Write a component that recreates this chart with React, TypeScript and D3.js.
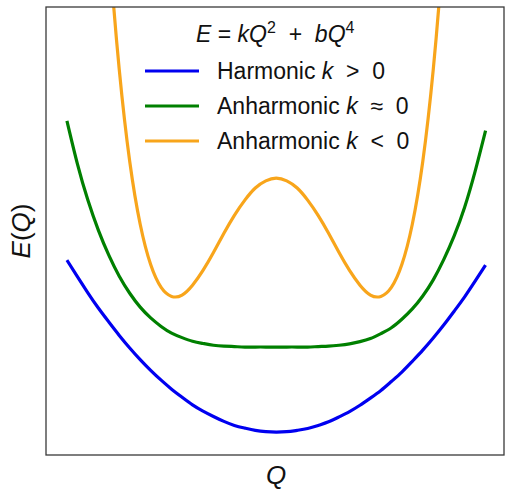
import React from "react";
import * as d3 from "d3";

// Q grid (normalised coordinate)
const qGrid = [
  -1, -0.95, -0.9, -0.85, -0.8, -0.75, -0.7, -0.65, -0.6, -0.55, -0.5, -0.45, -0.4, -0.35, -0.3, -0.25, -0.2, -0.15, -0.1, -0.05,
  0, 0.05, 0.1, 0.15, 0.2, 0.25, 0.3, 0.35, 0.4, 0.45, 0.5, 0.55, 0.6, 0.65, 0.7, 0.75, 0.8, 0.85, 0.9, 0.95, 1,
];
const harmonic = [
  4.35, 3.98, 3.62, 3.28, 2.97, 2.67, 2.39, 2.13, 1.89, 1.67, 1.47, 1.29, 1.12, 0.98, 0.86, 0.75, 0.66, 0.6, 0.55, 0.52,
  0.51, 0.52, 0.55, 0.59, 0.66, 0.74, 0.85, 0.97, 1.11, 1.27, 1.44, 1.64, 1.85, 2.09, 2.34, 2.61, 2.9, 3.21, 3.53, 3.88, 4.24,
];
const anharmonicFlat = [
  7.46, 6.5, 5.69, 5.02, 4.46, 3.99, 3.61, 3.3, 3.06, 2.87, 2.72, 2.62, 2.54, 2.49, 2.45, 2.43, 2.42, 2.41, 2.41, 2.41,
  2.41, 2.41, 2.41, 2.41, 2.42, 2.43, 2.45, 2.48, 2.53, 2.6, 2.71, 2.84, 3.03, 3.26, 3.55, 3.91, 4.36, 4.89, 5.53, 6.33, 7.24,
];
const qWell = [
  -0.85, -0.8, -0.75, -0.7, -0.65, -0.6, -0.55, -0.5, -0.45, -0.4, -0.35, -0.3, -0.25, -0.2, -0.15, -0.1, -0.05,
  0, 0.05, 0.1, 0.15, 0.2, 0.25, 0.3, 0.35, 0.4, 0.45, 0.5, 0.55, 0.6, 0.65, 0.7, 0.75, 0.8, 0.85,
];
const doubleWell = [
  15.4, 11.5, 8.6, 6.55, 5.15, 4.25, 3.74, 3.54, 3.57, 3.79, 4.12, 4.52, 4.95, 5.35, 5.69, 5.96, 6.12,
  6.18, 6.12, 5.96, 5.69, 5.35, 4.95, 4.52, 4.12, 3.79, 3.57, 3.54, 3.74, 4.25, 5.15, 6.55, 8.6, 11.5, 15.4,
];

const seriesNames = ["Harmonic", "Anharmonic", "Anharmonic"];
const seriesRel = [">", "\u2248", "<"];
const seriesColors = ["#0000f0", "#008000", "#f8a51b"];

const xDomain = [-1.1, 1.1];
const yDomain = [0, 10];

export default function App() {
  const W = 505;
  const H = 492;
  const left = 46, right = 504, top = 7, bottom = 455;
  const x = d3.scaleLinear().domain(xDomain).range([left, 506.5]);
  const y = d3.scaleLinear().domain(yDomain).range([bottom, top]);
  const line = d3
    .line<[number, number]>()
    .x((d) => x(d[0]))
    .y((d) => y(d[1]))
    .curve(d3.curveNatural);

  const series = [
    { q: qGrid, e: harmonic },
    { q: qGrid, e: anharmonicFlat },
    { q: qWell, e: doubleWell },
  ];
  const font = "'Liberation Sans', Arial, sans-serif";
  const legX0 = 145, legX1 = 199, legTextX = 217, legY0 = 71, legDy = 35;

  return (
    <svg width={W} height={H} style={{ position: "absolute", left: 0, top: 0, background: "#fff" }} fontFamily={font}>
      <defs>
        <clipPath id="plotclip">
          <rect x={left} y={top} width={right - left} height={bottom - top} />
        </clipPath>
      </defs>
      <rect x={0} y={0} width={W} height={H} fill="#fff" />
      <g clipPath="url(#plotclip)">
        {series.map((s, i) => (
          <path
            key={i}
            d={line(s.q.map((q, j) => [q, s.e[j]] as [number, number])) || ""}
            fill="none"
            stroke={seriesColors[i]}
            strokeWidth={3.2}
            strokeLinejoin="round"
            strokeLinecap="butt"
          />
        ))}
      </g>
      <rect x={left} y={top} width={right - left} height={bottom - top} fill="none" stroke="#3a3a3a" strokeWidth={1.3} />

      {/* Legend title */}
      <text x={196} y={42} fontSize={23} fill="#111" xmlSpace="preserve">
        <tspan fontStyle="italic">E</tspan>
        <tspan>{" = "}</tspan>
        <tspan fontStyle="italic">kQ</tspan>
        <tspan fontSize={16} dy={-9}>2</tspan>
        <tspan dy={9}>{"  +  "}</tspan>
        <tspan fontStyle="italic">bQ</tspan>
        <tspan fontSize={16} dy={-9}>4</tspan>
      </text>

      {seriesNames.map((name, i) => (
        <g key={i}>
          <line
            x1={legX0}
            x2={legX1}
            y1={legY0 + i * legDy}
            y2={legY0 + i * legDy}
            stroke={seriesColors[i]}
            strokeWidth={3.2}
          />
          <text x={legTextX} y={legY0 + i * legDy + 8} fontSize={23} fill="#111" xmlSpace="preserve">
            {name + " "}
            <tspan fontStyle="italic">k</tspan>
            {"  " + seriesRel[i] + "  0"}
          </text>
        </g>
      ))}

      {/* Axis labels */}
      <text x={276} y={484} fontSize={26} textAnchor="middle" fontStyle="italic" fill="#111">
        Q
      </text>
      <text
        transform={`translate(30, ${(top + bottom) / 2}) rotate(-90)`}
        fontSize={26}
        textAnchor="middle"
        fill="#111"
      >
        <tspan fontStyle="italic">E</tspan>
        <tspan>(</tspan>
        <tspan fontStyle="italic">Q</tspan>
        <tspan>)</tspan>
      </text>
    </svg>
  );
}
